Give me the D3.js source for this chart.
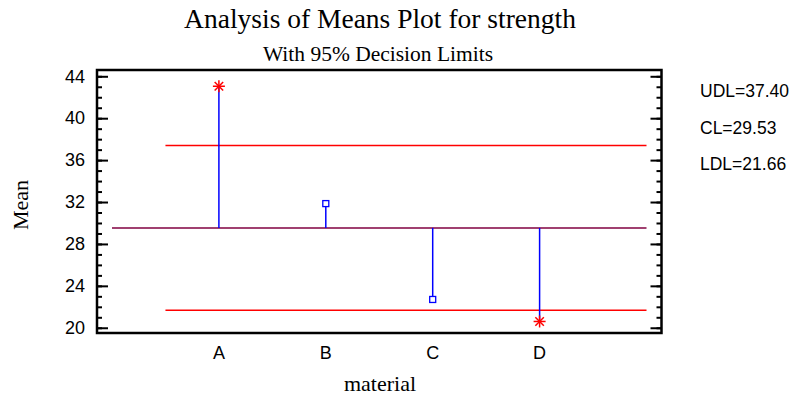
<!DOCTYPE html>
<html>
<head>
<meta charset="utf-8">
<script src="https://cdn.jsdelivr.net/npm/d3@7"></script>
<style>
  body { margin: 0; background: #fff; }
  svg { display: block; }
</style>
</head>
<body>
<div id="chart"></div>
<script>

// data
var categories = ["A", "B", "C", "D"];
var means = [43.05, 31.85, 22.7, 20.6];
var limitNames = ["UDL", "CL", "LDL"];
var limitValues = [37.40, 29.53, 21.66];
var yTicks = [20, 24, 28, 32, 36, 40, 44];

var width = 801, height = 399;

var svg = d3.select("#chart")
  .append("svg")
  .attr("width", width)
  .attr("height", height);

// scales: categories sit at 1..4, centre line runs 0..5
var x = d3.scaleLinear()
  .domain([0, 5])
  .range([112, 646.5]);

var y = d3.scaleLinear()
  .domain([19.5, 44.6])
  .range([333, 70]);

var frameLeft = x(0) - 15, frameRight = x(5) + 15;
var frameTop = y(44.6), frameBottom = y(19.5);

// titles
svg.append("text")
  .attr("x", 380)
  .attr("y", 28)
  .attr("text-anchor", "middle")
  .style("font-family", "'Liberation Serif', 'Times New Roman', serif")
  .style("font-size", "27.5px")
  .text("Analysis of Means Plot for strength");

svg.append("text")
  .attr("x", 378)
  .attr("y", 61)
  .attr("text-anchor", "middle")
  .style("font-family", "'Liberation Serif', 'Times New Roman', serif")
  .style("font-size", "21.5px")
  .text("With 95% Decision Limits");

// limit lines
var limits = limitNames.map(function (n, i) { return { name: n, value: limitValues[i] }; });

svg.selectAll(".limit")
  .data(limits)
  .enter()
  .append("line")
  .attr("class", "limit")
  .attr("x1", function (d) { return d.name == "CL" ? x(0) : x(0.5); })
  .attr("x2", x(5))
  .attr("y1", function (d) { return y(d.value); })
  .attr("y2", function (d) { return y(d.value); })
  .attr("stroke", function (d) { return d.name == "CL" ? "#800040" : "#ff0000"; })
  .attr("stroke-width", 1.5);

// stems from centre line to each mean
var cl = limitValues[1];
var points = categories.map(function (c, i) {
  return { cat: c, pos: i + 1, value: means[i],
    out: means[i] > limitValues[0] || means[i] < limitValues[2] };
});

svg.selectAll(".stem")
  .data(points)
  .enter()
  .append("line")
  .attr("class", "stem")
  .attr("x1", function (d) { return x(d.pos); })
  .attr("x2", function (d) { return x(d.pos); })
  .attr("y1", y(cl))
  .attr("y2", function (d) { return y(d.value); })
  .attr("stroke", "#0000ff")
  .attr("stroke-width", 1.5);

// markers: open squares inside, red asterisks outside the limits
svg.selectAll(".sq")
  .data(points.filter(function (d) { return !d.out; }))
  .enter()
  .append("rect")
  .attr("class", "sq")
  .attr("x", function (d) { return x(d.pos) - 3; })
  .attr("y", function (d) { return y(d.value) - 3; })
  .attr("width", 6)
  .attr("height", 6)
  .attr("fill", "#fff")
  .attr("stroke", "#0000ff")
  .attr("stroke-width", 1.3);

var star = svg.selectAll(".star")
  .data(points.filter(function (d) { return d.out; }))
  .enter()
  .append("g")
  .attr("class", "star")
  .attr("transform", function (d) { return "translate(" + x(d.pos) + "," + y(d.value) + ")"; });

[0, 45, 90, 135].forEach(function (a) {
  star.append("line")
    .attr("x1", -6).attr("x2", 6)
    .attr("y1", 0).attr("y2", 0)
    .attr("transform", "rotate(" + a + ")")
    .attr("stroke", "#ff0000")
    .attr("stroke-width", 1.5);
});

// frame
svg.append("rect")
  .attr("x", frameLeft)
  .attr("y", frameTop)
  .attr("width", frameRight - frameLeft)
  .attr("height", frameBottom - frameTop)
  .attr("fill", "none")
  .attr("stroke", "#000")
  .attr("stroke-width", 2.5);

// y axes with inward ticks, major every 4 and minor every 1
function addTicks(side, pos) {
  var make = side == "left" ? d3.axisRight : d3.axisLeft;
  var minor = make(y).tickValues(d3.range(20, 45, 1)).tickSize(5).tickSizeOuter(0).tickFormat("");
  var major = make(y).tickValues(yTicks).tickSize(11).tickSizeOuter(0).tickFormat("");
  svg.append("g").attr("transform", "translate(" + pos + ",0)").call(minor);
  svg.append("g").attr("transform", "translate(" + pos + ",0)").call(major);
}
addTicks("left", frameLeft);
addTicks("right", frameRight);

svg.selectAll(".domain").remove();
svg.selectAll(".tick line").attr("stroke", "#000").attr("stroke-width", 2);

// y tick labels
svg.selectAll(".ylab")
  .data(yTicks)
  .enter()
  .append("text")
  .attr("class", "ylab")
  .attr("x", frameLeft - 12)
  .attr("y", function (d) { return y(d); })
  .attr("dy", "0.35em")
  .attr("text-anchor", "end")
  .style("font-family", "'Liberation Sans', Arial, sans-serif")
  .style("font-size", "18px")
  .text(function (d) { return d; });

// x tick labels
svg.selectAll(".xlab")
  .data(points)
  .enter()
  .append("text")
  .attr("class", "xlab")
  .attr("x", function (d) { return x(d.pos); })
  .attr("y", 359)
  .attr("text-anchor", "middle")
  .style("font-family", "'Liberation Sans', Arial, sans-serif")
  .style("font-size", "18px")
  .text(function (d) { return d.cat; });

// axis titles
svg.append("text")
  .attr("x", 380)
  .attr("y", 391)
  .attr("text-anchor", "middle")
  .style("font-family", "'Liberation Serif', 'Times New Roman', serif")
  .style("font-size", "22px")
  .text("material");

svg.append("text")
  .attr("transform", "translate(28,205) rotate(-90)")
  .attr("text-anchor", "middle")
  .style("font-family", "'Liberation Serif', 'Times New Roman', serif")
  .style("font-size", "22px")
  .text("Mean");

// limit values on the right
svg.selectAll(".limtext")
  .data(limits)
  .enter()
  .append("text")
  .attr("class", "limtext")
  .attr("x", 700)
  .attr("y", function (d, i) { return 97 + i * 36.5; })
  .style("font-family", "'Liberation Sans', Arial, sans-serif")
  .style("font-size", "17.5px")
  .text(function (d) { return d.name + "=" + d.value.toFixed(2); });

</script>
</body>
</html>
